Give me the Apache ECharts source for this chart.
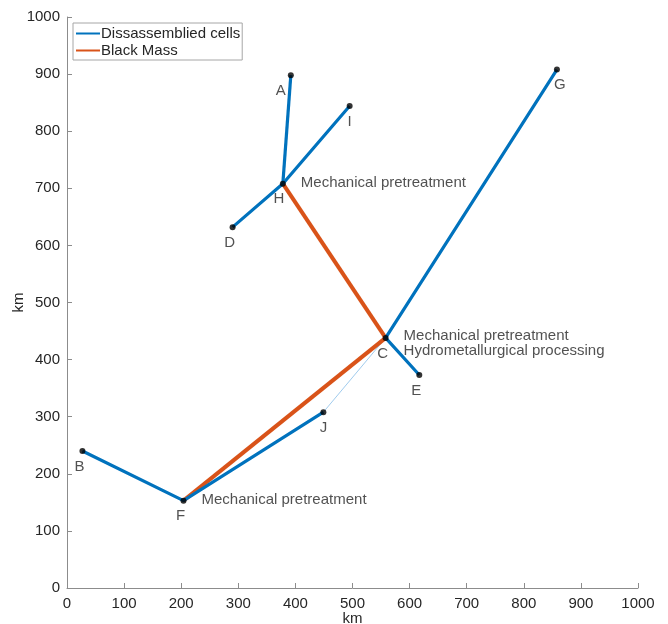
<!DOCTYPE html>
<html>
<head>
<meta charset="utf-8">
<script src="https://cdn.jsdelivr.net/npm/echarts@6/dist/echarts.min.js"></script>
<style>
  html, body { margin: 0; padding: 0; background: #fff; }
  #main { width: 668px; height: 624px; }
</style>
</head>
<body>
<div id="main"></div>
<script>
// site positions in km
const pointNames = ['A', 'B', 'C', 'D', 'E', 'F', 'G', 'H', 'I', 'J'];
const pointX = [392, 27, 558, 290, 617, 204, 858, 378, 495, 449];
const pointY = [898, 240, 438, 632, 373, 153, 908, 708, 844, 308];

// routes, as lists of site names
const cellRoutes = [['D', 'H', 'I'], ['A', 'H'], ['G', 'C', 'E'], ['B', 'F', 'J']];
const massRoutes = [['H', 'C'], ['F', 'C']];
const thinRoutes = [['J', 'C']];

// process notes at sites
const noteSites = ['H', 'C', 'F'];
const noteTexts = ['Mechanical pretreatment', 'Mechanical pretreatment\nHydrometallurgical processing', 'Mechanical pretreatment'];

const FONT = 'Liberation Sans';
const FS = 15;
const TXT = '#262626';
const BLUE = '#0072BD';
const ORANGE = '#D95319';

function pos(name) {
  const i = pointNames.indexOf(name);
  return [pointX[i], pointY[i]];
}

let chart = echarts.init(document.getElementById('main'));

let series = [];
cellRoutes.forEach((r) => {
  series.push({
    name: 'Dissassemblied cells', type: 'line', symbol: 'none', z: 3,
    lineStyle: { color: BLUE, width: 3.2 }, itemStyle: { color: BLUE },
    data: r.map(pos)
  });
});
massRoutes.forEach((r) => {
  series.push({
    name: 'Black Mass', type: 'line', symbol: 'none', z: 2,
    lineStyle: { color: ORANGE, width: 4 }, itemStyle: { color: ORANGE },
    data: r.map(pos)
  });
});
thinRoutes.forEach((r) => {
  series.push({
    type: 'line', symbol: 'none', z: 1, silent: true,
    lineStyle: { color: '#5fa8e0', width: 0.6 },
    data: r.map(pos)
  });
});

// letter label offsets (px) relative to default bottom placement
const labelShift = { A: [-10, 0], H: [-4, 0], D: [-3, 0], I: [0, 0], G: [3, 0], C: [-3, 0], E: [-3, 0], J: [0, 0], B: [-3, 0], F: [-3, 0] };

series.push({
  type: 'scatter', symbol: 'circle', symbolSize: 6, z: 5,
  itemStyle: { color: '#000' },
  label: {
    show: true, position: 'bottom', distance: 5,
    fontFamily: FONT, fontSize: FS, color: TXT,
    formatter: (p) => p.data.name
  },
  data: pointNames.map((n, i) => ({
    name: n, value: [pointX[i], pointY[i]],
    label: { offset: labelShift[n] }
  }))
});

series.push({
  type: 'scatter', symbolSize: 0, z: 6, silent: true,
  label: {
    show: true, position: 'right', distance: 18,
    fontFamily: FONT, fontSize: FS, color: TXT, lineHeight: 15,
    formatter: (p) => p.data.text
  },
  data: noteSites.map((n, i) => ({
    value: pos(n), text: noteTexts[i],
    label: { offset: n === 'C' ? [0, 5] : [0, -1] }
  }))
});

function axis(nameGap, labelMargin) {
  return {
    type: 'value', min: 0, max: 1000, interval: 100,
    name: 'km', nameLocation: 'middle', nameGap: nameGap, nameMoveOverlap: false,
    nameTextStyle: { fontFamily: FONT, fontSize: FS, color: TXT },
    axisLine: { show: true, lineStyle: { color: '#8c8c8c', width: 1 } },
    axisTick: { show: true, inside: true, length: 5, lineStyle: { color: '#8c8c8c' } },
    axisLabel: { fontFamily: FONT, fontSize: FS, color: TXT, margin: labelMargin, formatter: (v) => String(v) },
    splitLine: { show: false }
  };
}

let option = {
  animation: false,
  backgroundColor: '#fff',
  grid: { left: 67, top: 17, width: 571, height: 571, containLabel: false, outerBoundsMode: 'none' },
  xAxis: axis(23, 8),
  yAxis: axis(41, 7),
  legend: {
    data: ['Dissassemblied cells', 'Black Mass'],
    orient: 'vertical', left: 73, top: 23,
    padding: [3, 2, 2, 3], itemGap: 2,
    icon: 'rect', itemWidth: 24, itemHeight: 2,
    borderColor: '#a6a6a6', borderWidth: 1, borderRadius: 0,
    backgroundColor: '#fff',
    textStyle: { fontFamily: FONT, fontSize: FS, color: TXT, lineHeight: 15, padding: [0, 0, 0, -4] }
  },
  series: series
};

chart.setOption(option);
</script>
</body>
</html>
